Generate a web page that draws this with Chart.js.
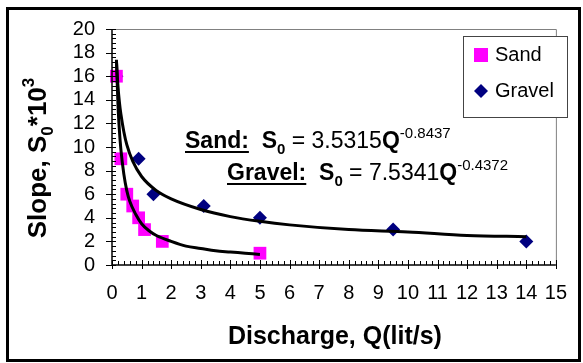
<!DOCTYPE html>
<html lang="en">
<head>
<meta charset="utf-8">
<title>Slope vs discharge</title>
<script src="https://cdn.jsdelivr.net/npm/chart.js@4.4.1/dist/chart.umd.min.js"></script>
<style>
  html, body { margin: 0; padding: 0; background: #fff; }
  #wrap { width: 583px; height: 363px; }
</style>
</head>
<body>
<div id="wrap"><canvas id="graph" width="583" height="363"></canvas></div>
<script>
  const sandQ = [0.15, 0.3, 0.5, 0.7, 0.9, 1.1, 1.7, 5.0];
  const sandS = [16, 9, 6, 5, 4, 3, 2, 1];
  const gravelQ = [0.15, 0.9, 1.4, 3.1, 5.0, 9.5, 14.0];
  const gravelS = [16, 9, 6, 5, 4, 3, 2];

  // power trend lines
  const sandTrendQ = [0.15, 0.2, 0.25, 0.3, 0.4, 0.5, 0.6, 0.8, 1, 1.25, 1.5, 2, 2.5, 3, 3.5, 4, 4.5, 5];
  const sandTrendS = [17.4, 13.7, 11.4, 9.8, 7.7, 6.3, 5.4, 4.3, 3.5, 2.9, 2.5, 2.0, 1.6, 1.4, 1.2, 1.1, 1.0, 0.9];
  const gravelTrendQ = [0.15, 0.2, 0.25, 0.3, 0.4, 0.5, 0.7, 1, 1.5, 2, 3, 4, 5, 6, 8, 10, 12, 14];
  const gravelTrendS = [17.3, 15.2, 13.8, 12.8, 11.3, 10.2, 8.8, 7.5, 6.3, 5.6, 4.7, 4.1, 3.7, 3.4, 3.0, 2.8, 2.5, 2.4];

  const seriesNames = ['Sand', 'Gravel'];
  const sandEq = ['3.5315', '-0.8437'];
  const gravelEq = ['7.5341', '-0.4372'];

  const FONT = '"Liberation Sans", Arial, sans-serif';

  function pts(xs, ys) {
    return xs.map((x, i) => ({ x: x, y: ys[i] }));
  }

  // draws text pieces with bold / sub / sup / underline, returns end x
  function drawRuns(ctx, x, y, runs, base) {
    runs.forEach(r => {
      const size = (r.sub || r.sup) ? Math.round(base * 0.65) : base;
      ctx.font = (r.b ? 'bold ' : '') + size + 'px ' + FONT;
      const dy = r.sub ? base * 0.25 : (r.sup ? -base * 0.45 : 0);
      ctx.fillText(r.t, x, y + dy);
      const w = ctx.measureText(r.t).width;
      if (r.u) ctx.fillRect(x, y + 3, w, 2);
      x += w;
    });
    return x;
  }

  function runsWidth(ctx, runs, base) {
    let w = 0;
    runs.forEach(r => {
      const size = (r.sub || r.sup) ? Math.round(base * 0.65) : base;
      ctx.font = (r.b ? 'bold ' : '') + size + 'px ' + FONT;
      w += ctx.measureText(r.t).width;
    });
    return w;
  }

  const decor = {
    id: 'decor',
    beforeDraw(chart) {
      const ctx = chart.ctx;
      ctx.save();
      ctx.fillStyle = '#fff';
      ctx.fillRect(0, 0, chart.width, chart.height);
      ctx.restore();
    },
    afterDraw(chart) {
      const ctx = chart.ctx;
      const a = chart.chartArea;
      const xs = chart.scales.x, ys = chart.scales.y;
      ctx.save();

      // plot frame: grey top/right, black axes
      ctx.lineWidth = 1;
      ctx.strokeStyle = '#808080';
      ctx.beginPath();
      ctx.moveTo(a.left, a.top + 0.5);
      ctx.lineTo(a.right + 0.5, a.top + 0.5);
      ctx.lineTo(a.right + 0.5, a.bottom);
      ctx.stroke();

      ctx.strokeStyle = '#000';
      ctx.lineWidth = 1.5;
      ctx.beginPath();
      ctx.moveTo(a.left, a.top);
      ctx.lineTo(a.left, a.bottom);
      ctx.lineTo(a.right, a.bottom);
      ctx.stroke();

      // tick marks
      ctx.lineWidth = 1;
      ctx.beginPath();
      for (let i = 0; i <= 75; i++) {
        const px = Math.round(xs.getPixelForValue(i * 0.2)) + 0.5;
        if (i % 5 === 0) { ctx.moveTo(px, a.bottom - 5); ctx.lineTo(px, a.bottom + 4); }
        else { ctx.moveTo(px, a.bottom - 4); ctx.lineTo(px, a.bottom); }
      }
      for (let i = 0; i <= 50; i++) {
        const py = Math.round(ys.getPixelForValue(i * 0.4)) + 0.5;
        if (i % 5 === 0) { ctx.moveTo(a.left - 6, py); ctx.lineTo(a.left + 4, py); }
        else { ctx.moveTo(a.left, py); ctx.lineTo(a.left + 4, py); }
      }
      ctx.stroke();

      // legend box
      ctx.fillStyle = '#fff';
      ctx.fillRect(463, 36, 104, 81);
      ctx.strokeStyle = '#444';
      ctx.lineWidth = 1;
      ctx.strokeRect(463.5, 36.5, 104, 81);
      ctx.fillStyle = '#ff00ff';
      ctx.fillRect(474, 48, 14, 14);
      ctx.fillStyle = '#000080';
      ctx.beginPath();
      ctx.moveTo(481, 84); ctx.lineTo(488, 91); ctx.lineTo(481, 98); ctx.lineTo(474, 91);
      ctx.closePath(); ctx.fill();
      ctx.fillStyle = '#000';
      ctx.font = '20px ' + FONT;
      ctx.textBaseline = 'middle';
      ctx.fillText(seriesNames[0], 495, 55);
      ctx.fillText(seriesNames[1], 495, 91);

      // equations
      ctx.textBaseline = 'alphabetic';
      drawRuns(ctx, 185, 148, [
        { t: 'Sand:', b: true, u: true }, { t: '  ', b: true },
        { t: 'S', b: true }, { t: '0', b: true, sub: true },
        { t: ' = ' + sandEq[0] }, { t: 'Q', b: true }, { t: sandEq[1], sup: true }
      ], 23);
      drawRuns(ctx, 227, 180, [
        { t: 'Gravel:', b: true, u: true }, { t: '  ', b: true },
        { t: 'S', b: true }, { t: '0', b: true, sub: true },
        { t: ' = ' + gravelEq[0] }, { t: 'Q', b: true }, { t: gravelEq[1], sup: true }
      ], 23);

      // x axis title
      ctx.font = 'bold 25px ' + FONT;
      ctx.textAlign = 'center';
      ctx.fillText('Discharge, Q(lit/s)', (a.left + a.right) / 2 + 1, 344);
      ctx.textAlign = 'left';

      // y axis title (rotated)
      const yRuns = [
        { t: 'Slope, ', b: true }, { t: 'S', b: true }, { t: '0', b: true, sub: true },
        { t: '*10', b: true }, { t: '3', b: true, sup: true }
      ];
      const yw = runsWidth(ctx, yRuns, 26);
      ctx.translate(46, 158);
      ctx.rotate(-Math.PI / 2);
      drawRuns(ctx, -yw / 2, 0, yRuns, 26);
      ctx.setTransform(1, 0, 0, 1, 0, 0);

      // outer frame
      ctx.strokeStyle = '#000';
      ctx.lineWidth = 3;
      ctx.strokeRect(7.5, 8.5, 572, 352);
      ctx.restore();
    }
  };

  const data = {
    datasets: [
      {
        type: 'line', label: 'Sand trend', data: pts(sandTrendQ, sandTrendS),
        borderColor: '#000', borderWidth: 3, pointRadius: 0, fill: false,
        cubicInterpolationMode: 'monotone', order: 0
      },
      {
        type: 'line', label: 'Gravel trend', data: pts(gravelTrendQ, gravelTrendS),
        borderColor: '#000', borderWidth: 3, pointRadius: 0, fill: false,
        cubicInterpolationMode: 'monotone', order: 0
      },
      {
        type: 'scatter', label: seriesNames[0], data: pts(sandQ, sandS),
        pointStyle: 'rect', pointRadius: 9, backgroundColor: '#ff00ff',
        borderWidth: 0, clip: false, order: 1
      },
      {
        type: 'scatter', label: seriesNames[1], data: pts(gravelQ, gravelS),
        pointStyle: 'rectRot', pointRadius: 7, backgroundColor: '#000080',
        borderWidth: 0, clip: false, order: 1
      }
    ]
  };

  const options = {
    responsive: false,
    devicePixelRatio: 1,
    animation: false,
    layout: { padding: { top: 28, right: 12, left: 0, bottom: 0 } },
    plugins: { legend: { display: false }, tooltip: { enabled: false } },
    scales: {
      x: {
        type: 'linear', min: 0, max: 15,
        ticks: { stepSize: 1, autoSkip: false, maxRotation: 0, color: '#000', padding: 16, font: { family: FONT, size: 20 } },
        grid: { display: true, drawOnChartArea: false, drawTicks: false },
        border: { display: false },
        afterFit: s => { s.height = 98; }
      },
      y: {
        type: 'linear', min: 0, max: 20,
        ticks: { stepSize: 2, autoSkip: false, color: '#000', padding: 17, font: { family: FONT, size: 20 } },
        grid: { display: true, drawOnChartArea: false, drawTicks: false },
        border: { display: false },
        afterFit: s => { s.width = 112; }
      }
    }
  };

  new Chart(document.getElementById('graph'), {
    type: 'scatter',
    data: data,
    options: options,
    plugins: [decor]
  });
</script>
</body>
</html>
